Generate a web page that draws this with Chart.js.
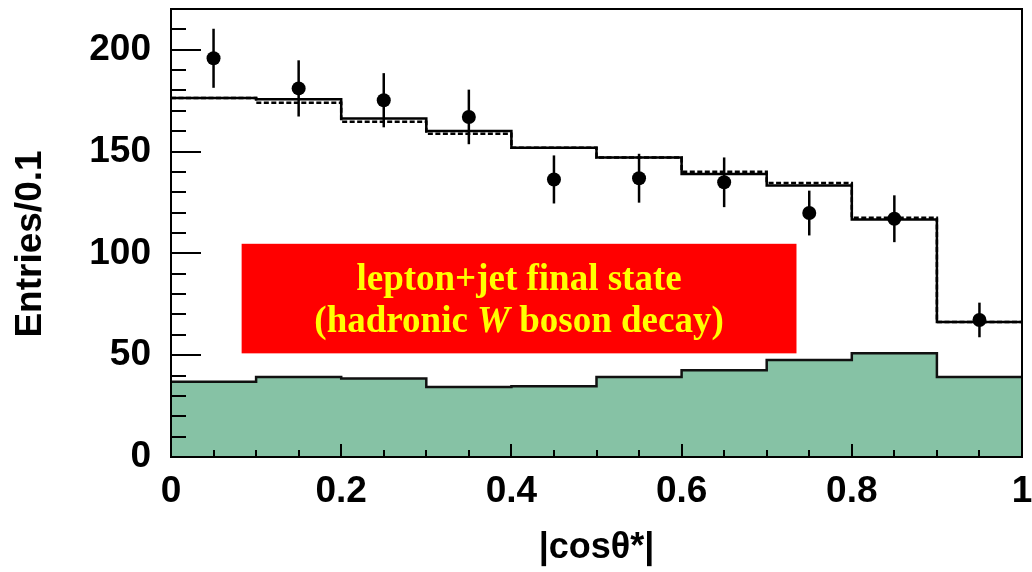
<!DOCTYPE html>
<html>
<head>
<meta charset="utf-8">
<script src="https://cdn.jsdelivr.net/npm/chart.js@4.4.1/dist/chart.umd.min.js"></script>
<style>
  html, body { margin: 0; padding: 0; background: #ffffff; }
  canvas { display: block; }
</style>
</head>
<body>
<canvas id="chart" width="1032" height="572"></canvas>
<script>
// |cos theta*| distribution, 10 bins of width 0.1
const binEdges    = [0, 0.1, 0.2, 0.3, 0.4, 0.5, 0.6, 0.7, 0.8, 0.9, 1.0];
const binCenters  = [0.05, 0.15, 0.25, 0.35, 0.45, 0.55, 0.65, 0.75, 0.85, 0.95];
const dataCounts  = [195.8, 181.0, 175.2, 167.0, 136.3, 136.9, 134.9, 119.8, 117.0, 67.3];
const dataErrors  = [14.5, 13.8, 13.3, 13.4, 11.8, 12.0, 12.2, 11.0, 11.5, 8.5];
const totalSolid  = [176.3, 175.7, 166.2, 160.1, 151.9, 147.1, 139.0, 133.3, 116.6, 66.3];
const totalDashed = [176.3, 174.0, 164.6, 158.8, 151.9, 147.1, 140.1, 134.6, 117.5, 66.3];
const background  = [36.9, 39.3, 38.5, 34.4, 34.7, 39.3, 42.6, 47.6, 50.9, 39.3];

const xTickValues = [0, 0.2, 0.4, 0.6, 0.8, 1];
const xTickLabels = ['0', '0.2', '0.4', '0.6', '0.8', '1'];
const yTickValues = [0, 50, 100, 150, 200];
const yTickLabels = ['0', '50', '100', '150', '200'];

const xTitle = '|cos\u03B8*|';
const yTitle = 'Entries/0.1';
const boxLine1 = 'lepton+jet final state';
const boxLine2 = ['(hadronic ', 'W', ' boson decay)'];
// label box corners in axis units
const boxX = [0.083, 0.735];
const boxY = [104.7, 50.9];

const sansBold = "'Liberation Sans', Arial, sans-serif";
const serif = "'Liberation Serif', 'Times New Roman', serif";

// histogram outline: one point per left bin edge plus the closing right edge
function stepPoints(values) {
  const pts = values.map((v, i) => ({ x: binEdges[i], y: v }));
  pts.push({ x: binEdges[binEdges.length - 1], y: values[values.length - 1] });
  return pts;
}

const errorBars = {
  id: 'errorBars',
  afterDatasetsDraw(chart) {
    const { ctx, scales: { x, y } } = chart;
    ctx.save();
    ctx.strokeStyle = '#000';
    ctx.lineWidth = 2.5;
    binCenters.forEach((c, i) => {
      const px = x.getPixelForValue(c);
      ctx.beginPath();
      ctx.moveTo(px, y.getPixelForValue(dataCounts[i] - dataErrors[i]));
      ctx.lineTo(px, y.getPixelForValue(dataCounts[i] + dataErrors[i]));
      ctx.stroke();
    });
    ctx.restore();
  }
};

const frameAndTicks = {
  id: 'frameAndTicks',
  afterDraw(chart) {
    const { ctx, chartArea: a, scales: { x, y } } = chart;
    ctx.save();
    ctx.strokeStyle = '#000';
    ctx.lineWidth = 2;
    ctx.beginPath();
    for (let k = 0; k <= 22; k++) {
      const py = Math.round(y.getPixelForValue(k * 10));
      const len = (k % 5 === 0) ? 30 : 15;
      ctx.moveTo(a.left, py);
      ctx.lineTo(a.left + len, py);
    }
    for (let k = 0; k <= 20; k++) {
      const px = Math.round(x.getPixelForValue(k * 0.05));
      const len = (k % 4 === 0) ? 13 : 7;
      ctx.moveTo(px, a.bottom);
      ctx.lineTo(px, a.bottom - len);
    }
    ctx.stroke();
    ctx.strokeRect(a.left, a.top, a.right - a.left, a.bottom - a.top);

    // vertical axis title
    ctx.fillStyle = '#000';
    ctx.font = 'bold 37px ' + sansBold;
    ctx.textAlign = 'center';
    ctx.textBaseline = 'middle';
    ctx.translate(31, (a.top + a.bottom) / 2 + 11);
    ctx.rotate(-Math.PI / 2);
    ctx.fillText(yTitle, 0, 0);
    ctx.restore();
  }
};

const labelBox = {
  id: 'labelBox',
  afterDraw(chart) {
    const { ctx, scales: { x, y } } = chart;
    const x0 = x.getPixelForValue(boxX[0]), x1 = x.getPixelForValue(boxX[1]);
    const y0 = y.getPixelForValue(boxY[0]), y1 = y.getPixelForValue(boxY[1]);
    ctx.save();
    ctx.fillStyle = '#ff0000';
    ctx.fillRect(x0, y0, x1 - x0, y1 - y0);
    const cx = (x0 + x1) / 2;
    ctx.fillStyle = '#ffff00';
    ctx.textBaseline = 'alphabetic';
    ctx.textAlign = 'center';
    const fNormal = 'bold 37px ' + serif;
    const fItalic = 'italic bold 37px ' + serif;
    ctx.font = fNormal;
    ctx.fillText(boxLine1, cx, y0 + 46);
    // second line mixes upright and italic runs
    const fonts = [fNormal, fItalic, fNormal];
    const widths = boxLine2.map((t, i) => { ctx.font = fonts[i]; return ctx.measureText(t).width; });
    let px = cx - widths.reduce((s, w) => s + w, 0) / 2;
    ctx.textAlign = 'left';
    boxLine2.forEach((t, i) => {
      ctx.font = fonts[i];
      ctx.fillText(t, px, y0 + 88);
      px += widths[i];
    });
    ctx.restore();
  }
};

new Chart(document.getElementById('chart'), {
  type: 'scatter',
  data: {
    datasets: [
      {
        label: 'Data',
        data: binCenters.map((c, i) => ({ x: c, y: dataCounts[i] })),
        pointRadius: 7,
        pointHoverRadius: 7,
        pointBackgroundColor: '#000',
        pointBorderColor: '#000',
        pointBorderWidth: 0,
        showLine: false,
        order: 0
      },
      {
        type: 'line',
        label: 'Total',
        data: stepPoints(totalSolid),
        stepped: 'before',
        borderColor: '#000',
        borderWidth: 2.5,
        pointRadius: 0,
        fill: false,
        order: 1
      },
      {
        type: 'line',
        label: 'Total (alt.)',
        data: stepPoints(totalDashed),
        stepped: 'before',
        borderColor: '#000',
        borderWidth: 2.5,
        borderDash: [5, 2.5],
        pointRadius: 0,
        fill: false,
        order: 2
      },
      {
        type: 'line',
        label: 'Background',
        data: stepPoints(background),
        stepped: 'before',
        borderColor: '#111',
        borderWidth: 2.5,
        backgroundColor: '#86c2a5',
        pointRadius: 0,
        fill: 'origin',
        order: 3
      }
    ]
  },
  options: {
    responsive: false,
    animation: false,
    devicePixelRatio: 1,
    layout: { padding: { top: 9, right: 10, bottom: 0, left: 0 } },
    plugins: {
      legend: { display: false },
      tooltip: { enabled: false }
    },
    scales: {
      x: {
        type: 'linear',
        min: 0,
        max: 1,
        afterBuildTicks: s => { s.ticks = xTickValues.map(v => ({ value: v })); },
        afterFit: s => { s.height = 115; s.paddingLeft = 0; s.paddingRight = 0; },
        grid: { display: false, drawTicks: false },
        border: { display: false },
        ticks: {
          padding: 13,
          color: '#000',
          font: { family: sansBold, size: 37, weight: 'bold' },
          maxRotation: 0,
          callback: (v, i) => xTickLabels[i]
        },
        title: {
          display: true,
          text: xTitle,
          color: '#000',
          font: { family: sansBold, size: 36, weight: 'bold', lineHeight: 1 },
          padding: { top: 0, bottom: 6 }
        }
      },
      y: {
        type: 'linear',
        min: 0,
        max: 220,
        afterBuildTicks: s => { s.ticks = yTickValues.map(v => ({ value: v })); },
        afterFit: s => { s.width = 171; s.paddingTop = 0; s.paddingBottom = 0; },
        grid: { display: false, drawTicks: false },
        border: { display: false },
        ticks: {
          padding: 20,
          color: '#000',
          font: { family: sansBold, size: 37, weight: 'bold' },
          callback: (v, i) => yTickLabels[i]
        }
      }
    }
  },
  plugins: [errorBars, frameAndTicks, labelBox]
});
</script>
</body>
</html>
